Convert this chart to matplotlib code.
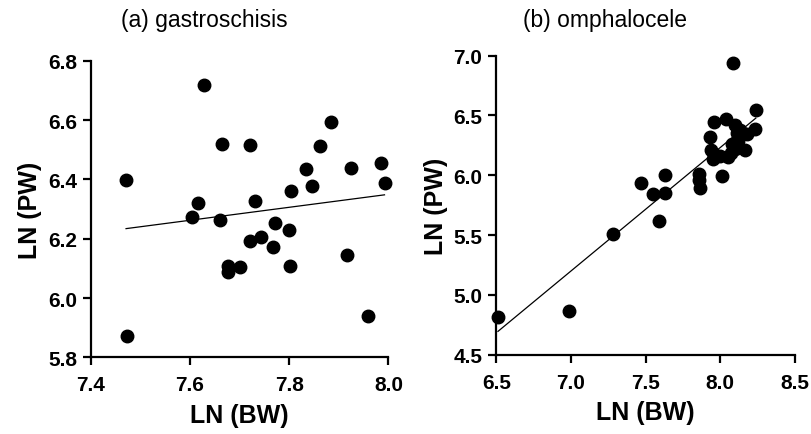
import numpy as np
import matplotlib
matplotlib.use("Agg")
import matplotlib.pyplot as plt

plt.rcParams["font.family"] = ["Liberation Sans", "DejaVu Sans"]

# ── Data ───────────────────────────────────────────────────────────────────────

gastro_bw = [7.471, 7.473, 7.628, 7.604, 7.616, 7.665, 7.661, 7.676, 7.676, 7.701,
             7.720, 7.720, 7.730, 7.743, 7.772, 7.768, 7.800, 7.804, 7.802, 7.833,
             7.846, 7.861, 7.884, 7.917, 7.924, 7.959, 7.985, 7.992]
gastro_pw = [6.398, 5.872, 6.720, 6.272, 6.320, 6.521, 6.263, 6.109, 6.087, 6.106,
             6.515, 6.194, 6.326, 6.207, 6.252, 6.172, 6.230, 6.362, 6.107, 6.435,
             6.379, 6.513, 6.592, 6.144, 6.437, 5.938, 6.456, 6.389]

omph_bw = [6.511, 6.984, 7.285, 7.468, 7.552, 7.588, 7.630, 7.630, 7.858, 7.858,
           7.865, 7.931, 7.960, 7.938, 7.953, 8.009, 7.998, 8.038, 8.099, 8.054,
           8.099, 8.121, 8.166, 8.177, 8.232, 8.110, 8.239, 8.088, 7.960, 8.070,
           8.130, 8.080]
omph_pw = [4.820, 4.862, 5.511, 5.934, 5.847, 5.622, 6.000, 5.852, 6.014, 5.958,
           5.894, 6.323, 6.449, 6.212, 6.137, 5.993, 6.165, 6.471, 6.421, 6.151,
           6.221, 6.290, 6.215, 6.346, 6.388, 6.350, 6.546, 6.939, 6.180, 6.190,
           6.380, 6.260]

panels = [
    dict(title="(a) gastroschisis", x=gastro_bw, y=gastro_pw,
         xlim=(7.4, 8.0), ylim=(5.8, 6.8),
         xticks=[7.4, 7.6, 7.8, 8.0], yticks=[5.8, 6.0, 6.2, 6.4, 6.6, 6.8],
         rect=[0.112, 0.176, 0.367, 0.682], title_x=0.252),
    dict(title="(b) omphalocele", x=omph_bw, y=omph_pw,
         xlim=(6.5, 8.5), ylim=(4.5, 7.0),
         xticks=[6.5, 7.0, 7.5, 8.0, 8.5], yticks=[4.5, 5.0, 5.5, 6.0, 6.5, 7.0],
         rect=[0.612, 0.182, 0.368, 0.688], title_x=0.746),
]

# ── Plot ───────────────────────────────────────────────────────────────────────

fig = plt.figure(figsize=(8.11, 4.35), dpi=100)

for p in panels:
    ax = fig.add_axes(p["rect"])
    x = np.array(p["x"])
    y = np.array(p["y"])
    ax.plot(x, y, "o", color="black", markersize=9, clip_on=False, zorder=3)

    # linear regression line over the data range
    slope, icpt = np.polyfit(x, y, 1)
    xs = np.array([x.min(), x.max()])
    ax.plot(xs, slope * xs + icpt, color="black", linewidth=0.9, zorder=2)

    ax.set_xlim(*p["xlim"])
    ax.set_ylim(*p["ylim"])
    ax.set_xticks(p["xticks"])
    ax.set_yticks(p["yticks"])
    ax.set_xticklabels([f"{t:.1f}" for t in p["xticks"]], fontweight="bold")
    ax.set_yticklabels([f"{t:.1f}" for t in p["yticks"]], fontweight="bold")
    ax.tick_params(labelsize=15, width=1.6, length=6, pad=4)
    ax.tick_params(axis="x", pad=7)
    ax.set_xlabel("LN (BW)", fontsize=18, fontweight="bold", labelpad=6)
    ax.set_ylabel("LN (PW)", fontsize=18, fontweight="bold", labelpad=4)
    for side in ("top", "right"):
        ax.spines[side].set_visible(False)
    for side in ("left", "bottom"):
        ax.spines[side].set_linewidth(1.6)

    fig.text(p["title_x"], 0.953, p["title"], fontsize=16.5, ha="center", va="center")

plt.savefig("out.png", dpi=100)
